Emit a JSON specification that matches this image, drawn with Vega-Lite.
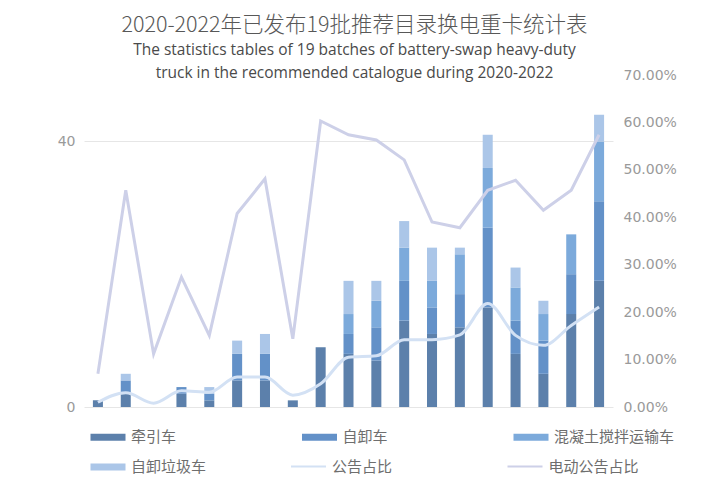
{
  "$schema": "https://vega.github.io/schema/vega-lite/v6.json",
  "width": 529,
  "height": 332,
  "autosize": {"type": "none"},
  "padding": {"left": 84, "top": 75, "right": 102, "bottom": 93},
  "background": "#ffffff",
  "config": {
    "view": {"stroke": null},
    "font": "Noto Sans CJK SC"
  },
  "title": {
    "text": "2020-2022年已发布19批推荐目录换电重卡统计表",
    "subtitle": ["The statistics tables of 19 batches of battery-swap heavy-duty", "truck in the recommended catalogue during 2020-2022"],
    "anchor": "middle",
    "frame": "group",
    "dx": 6,
    "offset": -13,
    "font": "Noto Sans CJK SC",
    "fontSize": 21.5,
    "fontWeight": 300,
    "color": "#585858",
    "subtitleFont": "Open Sans",
    "subtitleFontSize": 15.5,
    "subtitleColor": "#4a4a4a",
    "subtitlePadding": 6,
    "subtitleLineHeight": 23
  },
  "datasets": {
    "bars": [
      {"批次": 1, "车型": "牵引车", "数量": 1},
      {"批次": 2, "车型": "牵引车", "数量": 2},
      {"批次": 2, "车型": "自卸车", "数量": 2},
      {"批次": 2, "车型": "自卸垃圾车", "数量": 1},
      {"批次": 3, "车型": "牵引车", "数量": 0},
      {"批次": 4, "车型": "牵引车", "数量": 2},
      {"批次": 4, "车型": "自卸车", "数量": 1},
      {"批次": 5, "车型": "牵引车", "数量": 1},
      {"批次": 5, "车型": "自卸车", "数量": 1},
      {"批次": 5, "车型": "自卸垃圾车", "数量": 1},
      {"批次": 6, "车型": "牵引车", "数量": 4},
      {"批次": 6, "车型": "自卸车", "数量": 4},
      {"批次": 6, "车型": "自卸垃圾车", "数量": 2},
      {"批次": 7, "车型": "牵引车", "数量": 4},
      {"批次": 7, "车型": "自卸车", "数量": 4},
      {"批次": 7, "车型": "自卸垃圾车", "数量": 3},
      {"批次": 8, "车型": "牵引车", "数量": 1},
      {"批次": 9, "车型": "牵引车", "数量": 9},
      {"批次": 10, "车型": "牵引车", "数量": 8},
      {"批次": 10, "车型": "自卸车", "数量": 3},
      {"批次": 10, "车型": "混凝土搅拌运输车", "数量": 3},
      {"批次": 10, "车型": "自卸垃圾车", "数量": 5},
      {"批次": 11, "车型": "牵引车", "数量": 7},
      {"批次": 11, "车型": "自卸车", "数量": 5},
      {"批次": 11, "车型": "混凝土搅拌运输车", "数量": 4},
      {"批次": 11, "车型": "自卸垃圾车", "数量": 3},
      {"批次": 12, "车型": "牵引车", "数量": 13},
      {"批次": 12, "车型": "自卸车", "数量": 6},
      {"批次": 12, "车型": "混凝土搅拌运输车", "数量": 5},
      {"批次": 12, "车型": "自卸垃圾车", "数量": 4},
      {"批次": 13, "车型": "牵引车", "数量": 11},
      {"批次": 13, "车型": "自卸车", "数量": 4},
      {"批次": 13, "车型": "混凝土搅拌运输车", "数量": 4},
      {"批次": 13, "车型": "自卸垃圾车", "数量": 5},
      {"批次": 14, "车型": "牵引车", "数量": 12},
      {"批次": 14, "车型": "自卸车", "数量": 5},
      {"批次": 14, "车型": "混凝土搅拌运输车", "数量": 6},
      {"批次": 14, "车型": "自卸垃圾车", "数量": 1},
      {"批次": 15, "车型": "牵引车", "数量": 15},
      {"批次": 15, "车型": "自卸车", "数量": 12},
      {"批次": 15, "车型": "混凝土搅拌运输车", "数量": 9},
      {"批次": 15, "车型": "自卸垃圾车", "数量": 5},
      {"批次": 16, "车型": "牵引车", "数量": 8},
      {"批次": 16, "车型": "自卸车", "数量": 5},
      {"批次": 16, "车型": "混凝土搅拌运输车", "数量": 5},
      {"批次": 16, "车型": "自卸垃圾车", "数量": 3},
      {"批次": 17, "车型": "牵引车", "数量": 5},
      {"批次": 17, "车型": "自卸车", "数量": 5},
      {"批次": 17, "车型": "混凝土搅拌运输车", "数量": 4},
      {"批次": 17, "车型": "自卸垃圾车", "数量": 2},
      {"批次": 18, "车型": "牵引车", "数量": 14},
      {"批次": 18, "车型": "自卸车", "数量": 6},
      {"批次": 18, "车型": "混凝土搅拌运输车", "数量": 6},
      {"批次": 19, "车型": "牵引车", "数量": 19},
      {"批次": 19, "车型": "自卸车", "数量": 12},
      {"批次": 19, "车型": "混凝土搅拌运输车", "数量": 9},
      {"批次": 19, "车型": "自卸垃圾车", "数量": 4}
    ],
    "ratio": [
      {"批次": 1, "公告占比": 0.010, "电动公告占比": 0.070},
      {"批次": 2, "公告占比": 0.030, "电动公告占比": 0.457},
      {"批次": 3, "公告占比": 0.008, "电动公告占比": 0.112},
      {"批次": 4, "公告占比": 0.034, "电动公告占比": 0.274},
      {"批次": 5, "公告占比": 0.031, "电动公告占比": 0.151},
      {"批次": 6, "公告占比": 0.063, "电动公告占比": 0.408},
      {"批次": 7, "公告占比": 0.063, "电动公告占比": 0.481},
      {"批次": 8, "公告占比": 0.025, "电动公告占比": 0.144},
      {"批次": 9, "公告占比": 0.049, "电动公告占比": 0.603},
      {"批次": 10, "公告占比": 0.105, "电动公告占比": 0.574},
      {"批次": 11, "公告占比": 0.108, "电动公告占比": 0.563},
      {"批次": 12, "公告占比": 0.142, "电动公告占比": 0.521},
      {"批次": 13, "公告占比": 0.142, "电动公告占比": 0.390},
      {"批次": 14, "公告占比": 0.152, "电动公告占比": 0.378},
      {"批次": 15, "公告占比": 0.218, "电动公告占比": 0.457},
      {"批次": 16, "公告占比": 0.151, "电动公告占比": 0.478},
      {"批次": 17, "公告占比": 0.130, "电动公告占比": 0.415},
      {"批次": 18, "公告占比": 0.172, "电动公告占比": 0.457},
      {"批次": 19, "公告占比": 0.211, "电动公告占比": 0.574}
    ]
  },
  "encoding": {
    "x": {
      "field": "批次",
      "type": "ordinal",
      "axis": null,
      "scale": {"paddingInner": 0.64, "paddingOuter": 0.32}
    }
  },
  "layer": [
    {
      "data": {"name": "bars"},
      "mark": {"type": "bar"},
      "encoding": {
        "y": {
          "aggregate": "sum",
          "field": "数量",
          "type": "quantitative",
          "stack": "zero",
          "scale": {"domain": [0, 50], "nice": false},
          "axis": {
            "title": null,
            "values": [0, 40],
            "grid": true,
            "gridColor": "#e6e6e6",
            "domain": false,
            "ticks": false,
            "labelFont": "DejaVu Sans",
            "labelFontSize": 14,
            "labelColor": "#9a9a9a",
            "labelPadding": 9
          }
        },
        "fill": {
          "field": "车型",
          "type": "nominal",
          "sort": ["牵引车", "自卸车", "混凝土搅拌运输车", "自卸垃圾车"],
          "scale": {
            "domain": ["牵引车", "自卸车", "混凝土搅拌运输车", "自卸垃圾车"],
            "range": ["#5c80ab", "#6391c8", "#7caadb", "#abc6e8"]
          },
          "legend": {
            "orient": "none",
            "legendX": 16.5,
            "legendY": 354.5,
            "direction": "horizontal",
            "columns": 3,
            "gridAlign": "all",
            "columnPadding": 50.5,
            "rowPadding": 14,
            "padding": 0,
            "title": null,
            "symbolType": "M-2.5,-0.5H2.5V0.5H-2.5Z",
            "symbolSize": 196,
            "symbolStrokeWidth": 0,
            "labelOffset": 15.5,
            "labelFont": "Noto Sans CJK SC",
            "labelFontSize": 15,
            "labelColor": "#6e6e6e",
            "labelLimit": 200
          }
        },
        "order": {"field": "车型_order", "type": "quantitative"}
      }
    },
    {
      "data": {"name": "ratio"},
      "mark": {"type": "line", "strokeWidth": 3, "interpolate": "linear"},
      "encoding": {
        "y": {
          "field": "电动公告占比",
          "type": "quantitative",
          "scale": {"domain": [0, 0.7], "nice": false},
          "axis": null
        },
        "stroke": {
          "datum": "电动公告占比",
          "type": "nominal",
          "scale": {
            "domain": ["公告占比", "电动公告占比"],
            "range": ["#d3e1f4", "#cdd0e8"]
          },
          "legend": {
            "orient": "none",
            "legendX": 216.5,
            "legendY": 383.5,
            "direction": "horizontal",
            "columns": 2,
            "gridAlign": "all",
            "columnPadding": 80.5,
            "padding": 0,
            "title": null,
            "symbolType": "M-2.5,0H2.5",
            "symbolSize": 196,
            "symbolStrokeWidth": 2,
            "labelOffset": 15.5,
            "labelFont": "Noto Sans CJK SC",
            "labelFontSize": 15,
            "labelColor": "#6e6e6e",
            "labelLimit": 200
          }
        }
      }
    },
    {
      "data": {"name": "ratio"},
      "mark": {"type": "line", "strokeWidth": 3, "interpolate": "monotone"},
      "encoding": {
        "y": {
          "field": "公告占比",
          "type": "quantitative",
          "scale": {"domain": [0, 0.7], "nice": false},
          "axis": {
            "title": null,
            "orient": "right",
            "values": [0, 0.1, 0.2, 0.3, 0.4, 0.5, 0.6, 0.7],
            "format": ".2%",
            "grid": false,
            "domain": false,
            "ticks": false,
            "labelFont": "DejaVu Sans",
            "labelFontSize": 14,
            "labelColor": "#9a9a9a",
            "labelPadding": 10
          }
        },
        "stroke": {"datum": "公告占比", "type": "nominal"}
      }
    }
  ],
  "resolve": {"scale": {"y": "independent"}}
}
